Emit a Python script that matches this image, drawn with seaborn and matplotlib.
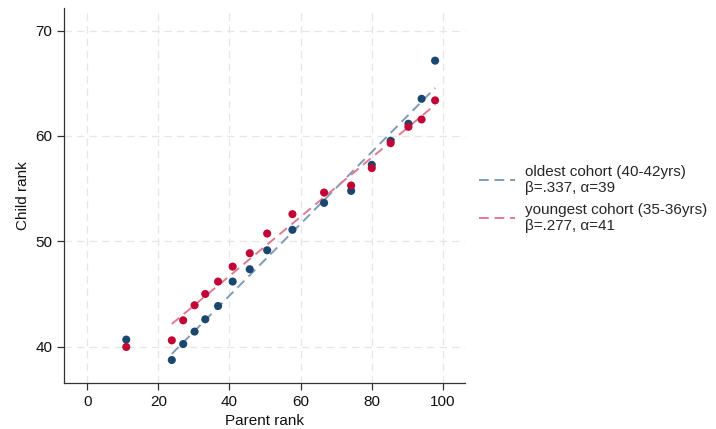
import numpy as np
import pandas as pd
import matplotlib
matplotlib.use("Agg")
import matplotlib.pyplot as plt
import seaborn as sns

# parent rank bins (x) and mean child rank per cohort
parent_rank = [11.0, 23.8, 27.0, 30.2, 33.2, 36.8, 40.9, 45.7, 50.6, 57.7,
               66.6, 74.2, 80.0, 85.3, 90.3, 94.0, 97.8]
oldest = [40.67, 38.73, 40.25, 41.43, 42.60, 43.86, 46.18, 47.35, 49.15, 51.09,
          53.65, 54.79, 57.26, 59.54, 61.16, 63.53, 67.15]
youngest = [39.97, 40.60, 42.50, 43.93, 45.00, 46.18, 47.60, 48.87, 50.74, 52.58,
            54.63, 55.30, 56.95, 59.32, 60.87, 61.57, 63.38]

labels = ["oldest cohort (40-42yrs)\nβ=.337, α=39",
          "youngest cohort (35-36yrs)\nβ=.277, α=41"]
colors = ["#1a476f", "#c10534"]
line_colors = ["#7f9bb6", "#e07a92"]

df = pd.DataFrame({
    "parent": parent_rank * 2,
    "child": oldest + youngest,
    "cohort": ["oldest"] * len(oldest) + ["youngest"] * len(youngest),
})

sns.set_style("white")
plt.rcParams["font.family"] = ["Liberation Sans", "DejaVu Sans"]

fig = plt.figure(figsize=(7.16, 4.29), dpi=100)
ax = fig.add_axes([64 / 716, 1 - 383 / 429, (465 - 64) / 716, (383 - 8) / 429])

# fitted lines (bins above the bottom tail)
handles = []
for coh, lc in zip(["oldest", "youngest"], line_colors):
    sub = df[(df.cohort == coh) & (df.parent > 20)]
    sns.regplot(data=sub, x="parent", y="child", scatter=False, ci=None,
                truncate=True, ax=ax,
                line_kws={"color": lc, "ls": (0, (5, 3)), "lw": 1.4, "zorder": 2})
    handles.append(ax.lines[-1])

sns.scatterplot(data=df, x="parent", y="child", hue="cohort",
                palette=colors, s=34, edgecolor="none", legend=False,
                ax=ax, zorder=3)

ax.set_xlim(-6.5, 106.2)
ax.set_ylim(36.55, 72.15)
ax.set_xticks(range(0, 101, 20))
ax.set_yticks([40, 50, 60, 70])
ax.grid(True, color="#e6e6e6", ls=(0, (6, 4)), lw=0.9)
ax.set_axisbelow(True)
for s in ["top", "right"]:
    ax.spines[s].set_visible(False)
for s in ["left", "bottom"]:
    ax.spines[s].set_color("#333333")
    ax.spines[s].set_linewidth(0.9)
ax.tick_params(axis="both", direction="out", length=5, width=0.9,
               color="#333333", labelsize=11, labelcolor="#111111",
               bottom=True, left=True)
ax.set_xlabel("Parent rank", fontsize=11, color="#111111")
ax.set_ylabel("Child rank", fontsize=11, color="#111111")

fig.legend(handles, labels, loc="center left", bbox_to_anchor=(465 / 716, 1 - 199 / 429),
           frameon=False, fontsize=11, handlelength=2.4, handletextpad=0.6,
           labelspacing=0.5)

fig.savefig("out.png", dpi=100)
